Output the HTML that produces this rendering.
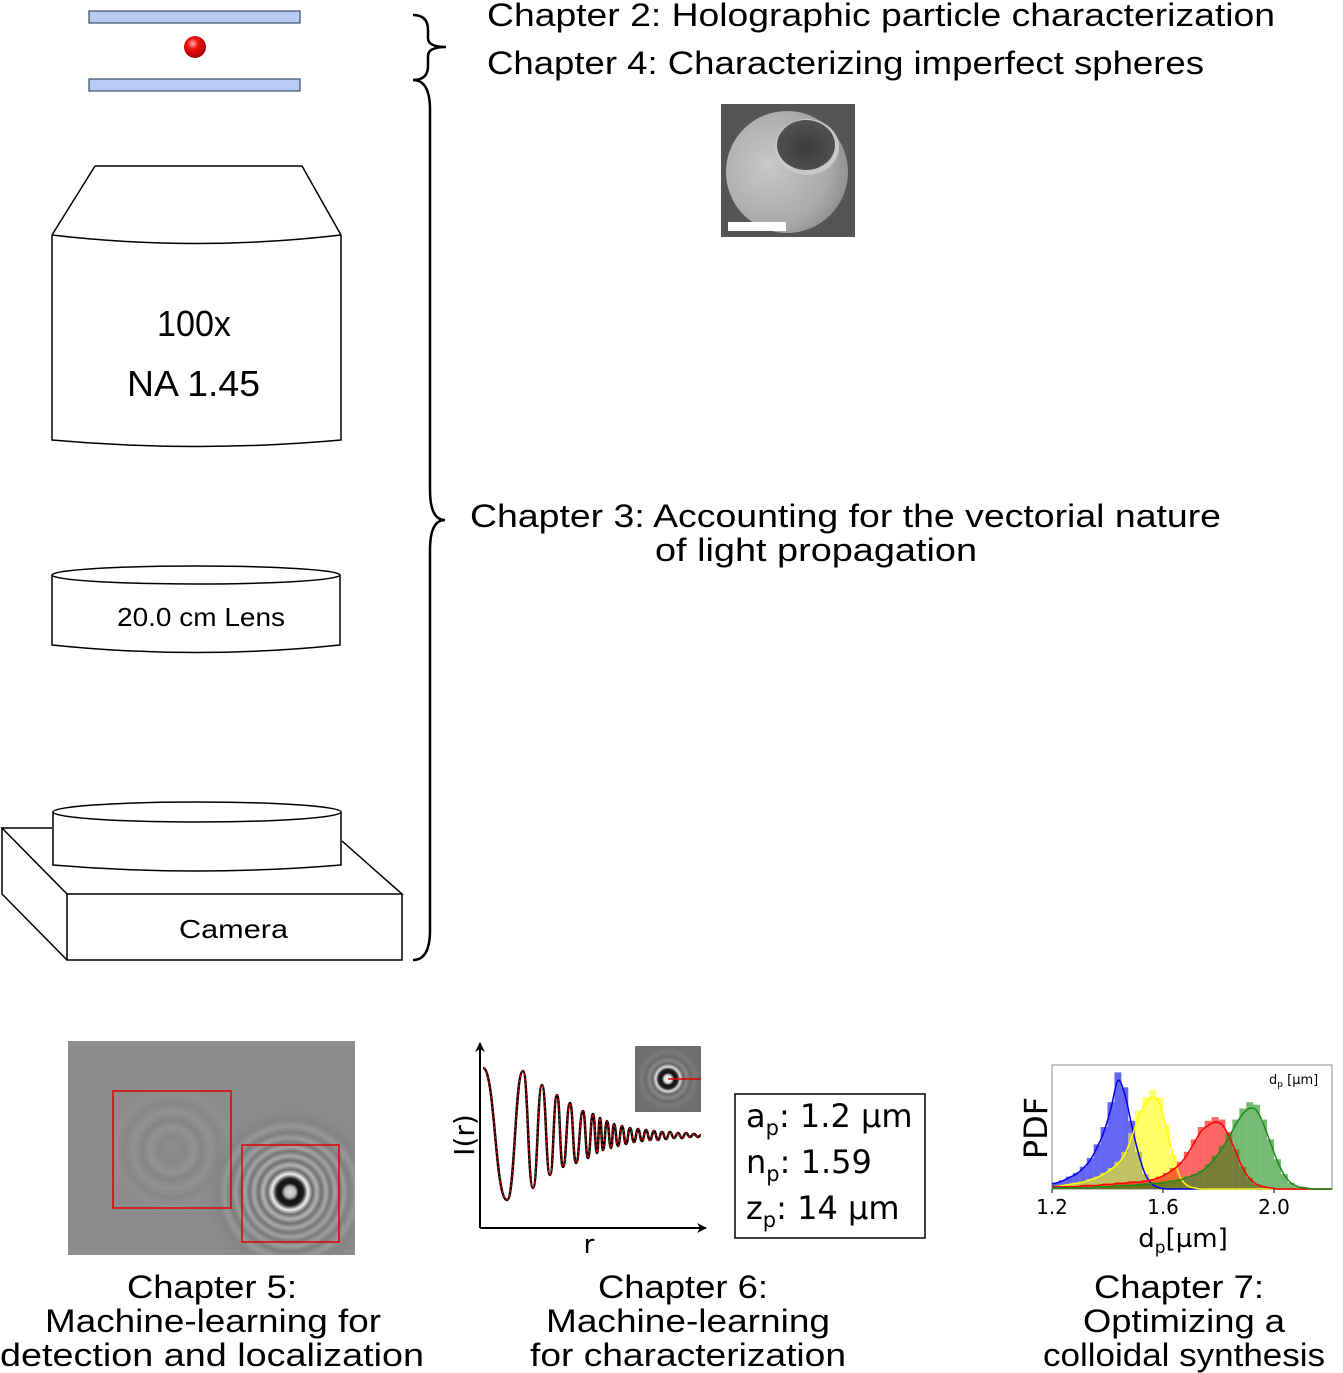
<!DOCTYPE html>
<html><head><meta charset="utf-8"><style>
html,body{margin:0;padding:0;background:#fff}
svg{display:block}
text{fill:#000}
.ls{font-family:"Liberation Sans",sans-serif}
.dv{font-family:"DejaVu Sans",sans-serif}
</style></head><body>
<svg id="root" width="1343" height="1373" viewBox="0 0 1343 1373" xmlns="http://www.w3.org/2000/svg">
<defs>
<radialGradient id="ball" cx="0.4" cy="0.35" r="0.7"><stop offset="0" stop-color="#ffb0b0"/><stop offset="0.35" stop-color="#f01010"/><stop offset="1" stop-color="#a00000"/></radialGradient>
<radialGradient id="sphere" cx="0.35" cy="0.45" r="0.7"><stop offset="0" stop-color="#c8c8c8"/><stop offset="0.7" stop-color="#aaaaaa"/><stop offset="1" stop-color="#8a8a8a"/></radialGradient>
<radialGradient id="hole" cx="0.5" cy="0.55" r="0.6"><stop offset="0" stop-color="#3a3a3a"/><stop offset="1" stop-color="#555"/></radialGradient>
<radialGradient id="holo1" cx="290" cy="1192" r="90" gradientUnits="userSpaceOnUse">
<stop offset="0" stop-color="#d8d8d8"/><stop offset="0.06" stop-color="#bcbcbc"/><stop offset="0.1" stop-color="#101010"/><stop offset="0.15" stop-color="#202020"/><stop offset="0.2" stop-color="#f0f0f0"/><stop offset="0.25" stop-color="#6a6a6a"/><stop offset="0.3" stop-color="#b4b4b4"/><stop offset="0.35" stop-color="#707070"/><stop offset="0.4" stop-color="#aaaaaa"/><stop offset="0.45" stop-color="#767676"/><stop offset="0.5" stop-color="#a4a4a4"/><stop offset="0.55" stop-color="#7a7a7a"/><stop offset="0.6" stop-color="#9e9e9e"/><stop offset="0.66" stop-color="#7e7e7e"/><stop offset="0.73" stop-color="#989898"/><stop offset="0.8" stop-color="#848484"/><stop offset="1" stop-color="#8c8c8c" stop-opacity="0"/></radialGradient>
<radialGradient id="holo2" cx="172" cy="1150" r="70" gradientUnits="userSpaceOnUse">
<stop offset="0" stop-color="#8e8e8e"/><stop offset="0.2" stop-color="#888"/><stop offset="0.32" stop-color="#949494"/><stop offset="0.42" stop-color="#858585"/><stop offset="0.55" stop-color="#939393"/><stop offset="0.68" stop-color="#878787"/><stop offset="0.8" stop-color="#909090"/><stop offset="1" stop-color="#8c8c8c" stop-opacity="0"/></radialGradient>
<radialGradient id="holo3" cx="668" cy="1079" r="32" gradientUnits="userSpaceOnUse">
<stop offset="0" stop-color="#fff"/><stop offset="0.12" stop-color="#ddd"/><stop offset="0.2" stop-color="#111"/><stop offset="0.3" stop-color="#222"/><stop offset="0.38" stop-color="#ddd"/><stop offset="0.48" stop-color="#666"/><stop offset="0.58" stop-color="#888"/><stop offset="0.7" stop-color="#6a6a6a"/><stop offset="0.82" stop-color="#7a7a7a"/><stop offset="1" stop-color="#6e6e6e"/></radialGradient>
<clipPath id="holoClip"><rect x="68" y="1041" width="287" height="214"/></clipPath>
<marker id="arr" viewBox="0 0 10 10" refX="9" refY="5" markerWidth="10" markerHeight="10" orient="auto" markerUnits="userSpaceOnUse"><path d="M0,0 L10,5 L0,10 L3,5 z" fill="#000"/></marker>
</defs>

<rect x="89" y="11" width="211" height="12" fill="#b7cbf3" stroke="#3a4a6a" stroke-width="1.2"/>
<rect x="89" y="79" width="211" height="12" fill="#b7cbf3" stroke="#3a4a6a" stroke-width="1.2"/>
<circle cx="195" cy="47" r="11" fill="url(#ball)"/>

<g fill="none" stroke="#000" stroke-width="1.5">
<path d="M95,166 L302,166 L341,235 M95,166 L52,235"/>
<path d="M52,235 Q196,252 341,235"/>
<path d="M52,235 L52,440 Q196,453 341,440 L341,235"/>
</g>
<text class="ls" x="157" y="336" font-size="36" textLength="74" lengthAdjust="spacingAndGlyphs">100x</text>
<text class="ls" x="127" y="396" font-size="36" textLength="133" lengthAdjust="spacingAndGlyphs">NA 1.45</text>

<g fill="none" stroke="#000" stroke-width="1.5">
<ellipse cx="196" cy="575" rx="144" ry="9"/>
<path d="M52,575 L52,645 Q196,660 340,645 L340,575"/>
</g>
<text class="ls" x="117" y="626" font-size="26" textLength="168" lengthAdjust="spacingAndGlyphs">20.0 cm Lens</text>

<g fill="none" stroke="#000" stroke-width="1.5">
<path d="M52,828 L2,828 L67,894 L402,894 L342,841"/>
<path d="M2,828 L2,894 L67,960 L402,960 L402,894"/>
<path d="M67,894 L67,960"/>
<path d="M53,812 L53,865 Q196,877 341,865 L341,812" fill="#fff"/>
<ellipse cx="197" cy="812" rx="144" ry="10" fill="#fff"/>
</g>
<text class="ls" x="179" y="938" font-size="26" textLength="109" lengthAdjust="spacingAndGlyphs">Camera</text>

<path d="M413,15 Q428,15 428,30 L428,38 Q428,47 446,47 Q428,47 428,56 L428,66 Q428,80 413,80" fill="none" stroke="#000" stroke-width="2.5"/>
<path d="M413,80 Q430,80 430,110 L430,490 Q430,520 445,520 Q430,520 430,550 L430,930 Q430,960 413,960" fill="none" stroke="#000" stroke-width="2.5"/>

<text class="ls" x="487" y="26" font-size="32" textLength="788" lengthAdjust="spacingAndGlyphs">Chapter 2: Holographic particle characterization</text>
<text class="ls" x="487" y="74" font-size="32" textLength="717" lengthAdjust="spacingAndGlyphs">Chapter 4: Characterizing imperfect spheres</text>
<text class="ls" x="470" y="527" font-size="32" textLength="751" lengthAdjust="spacingAndGlyphs">Chapter 3: Accounting for the vectorial nature</text>
<text class="ls" x="655" y="561" font-size="32" textLength="322" lengthAdjust="spacingAndGlyphs">of light propagation</text>

<g>
<rect x="721" y="104" width="134" height="133" fill="#555"/>
<circle cx="787" cy="172" r="61" fill="url(#sphere)"/>
<ellipse cx="807" cy="147" rx="32" ry="28" fill="#c8c8c8"/>
<ellipse cx="806" cy="145" rx="29" ry="25" fill="url(#hole)"/>
<rect x="728" y="222" width="58" height="9" fill="#fff"/>
</g>

<g>
<g clip-path="url(#holoClip)">
<rect x="68" y="1041" width="287" height="214" fill="#8c8c8c"/>
<circle cx="172" cy="1150" r="70" fill="url(#holo2)"/>
<circle cx="290" cy="1192" r="90" fill="url(#holo1)"/>
</g>
<rect x="113" y="1091" width="118" height="117" fill="none" stroke="#e00000" stroke-width="1.5"/>
<rect x="242" y="1145" width="97" height="97" fill="none" stroke="#e00000" stroke-width="1.5"/>
</g>

<g id="ch6">
<line x1="480" y1="1228" x2="480" y2="1043" stroke="#000" stroke-width="2" marker-end="url(#arr)"/>
<line x1="480" y1="1228" x2="706" y2="1228" stroke="#000" stroke-width="2" marker-end="url(#arr)"/>
<text class="dv" transform="translate(474,1135) rotate(-90)" text-anchor="middle" font-size="28">I(r)</text>
<text class="dv" x="589" y="1253" text-anchor="middle" font-size="26">r</text>
<rect x="635" y="1046" width="66" height="66" fill="url(#holo3)"/>
<line x1="668" y1="1079" x2="701" y2="1079" stroke="#e00000" stroke-width="1.5"/>
</g>
<rect x="735" y="1094" width="190" height="144" fill="#fff" stroke="#000" stroke-width="1.5"/>
<text class="dv" x="746" y="1127" font-size="32">a<tspan font-size="21" dy="8">p</tspan><tspan dy="-8">: 1.2 µm</tspan></text>
<text class="dv" x="746" y="1173" font-size="32">n<tspan font-size="21" dy="8">p</tspan><tspan dy="-8">: 1.59</tspan></text>
<text class="dv" x="746" y="1219" font-size="32">z<tspan font-size="21" dy="8">p</tspan><tspan dy="-8">: 14 µm</tspan></text>

<g id="ch7">
<rect x="1052" y="1065" width="280" height="124" fill="#fff" stroke="#888" stroke-width="1"/>
<text class="dv" x="1269" y="1084" font-size="13">d<tspan font-size="9" dy="3">p</tspan><tspan dy="-3"> [µm]</tspan></text>
<text class="dv" transform="translate(1047,1128) rotate(-90)" text-anchor="middle" font-size="32">PDF</text>
<text class="dv" x="1183" y="1247" text-anchor="middle" font-size="26">d<tspan font-size="17" dy="6">p</tspan><tspan dy="-6">[µm]</tspan></text>
</g>

<text class="ls" x="212" y="1298" text-anchor="middle" font-size="32" textLength="170" lengthAdjust="spacingAndGlyphs">Chapter 5:</text>
<text class="ls" x="213" y="1332" text-anchor="middle" font-size="32" textLength="336" lengthAdjust="spacingAndGlyphs">Machine-learning for</text>
<text class="ls" x="212" y="1366" text-anchor="middle" font-size="32" textLength="424" lengthAdjust="spacingAndGlyphs">detection and localization</text>
<text class="ls" x="683" y="1298" text-anchor="middle" font-size="32" textLength="170" lengthAdjust="spacingAndGlyphs">Chapter 6:</text>
<text class="ls" x="688" y="1332" text-anchor="middle" font-size="32" textLength="284" lengthAdjust="spacingAndGlyphs">Machine-learning</text>
<text class="ls" x="688" y="1366" text-anchor="middle" font-size="32" textLength="316" lengthAdjust="spacingAndGlyphs">for characterization</text>
<text class="ls" x="1179" y="1298" text-anchor="middle" font-size="32" textLength="170" lengthAdjust="spacingAndGlyphs">Chapter 7:</text>
<text class="ls" x="1184" y="1332" text-anchor="middle" font-size="32" textLength="202" lengthAdjust="spacingAndGlyphs">Optimizing a</text>
<text class="ls" x="1184" y="1366" text-anchor="middle" font-size="32" textLength="282" lengthAdjust="spacingAndGlyphs">colloidal synthesis</text>
</svg>
<script>
// ---- Chapter 6 profile data (extrema of I(r), arbitrary units) ----
const profileR = [3,27,43,53,62,70,77,83,90,96,103,108,113,117,120,123,127,131,134,138,142,146,150,154,158,162,166,170,174,178,182,186,190,194,198,202,206,210,214,218,221];
const profileI = [160,28,157,40,143,53,133,61,125,65,117,70,114,75,110,78,107,80,104,82,102,84,100,86,99,87,98,88,97,88,96,89,96,90,95,90,95,91,94,91,93];
// ---- Chapter 7 histogram data ----
const binStart = 1.2, binWidth = 0.025;
const blueHist   = [0.05,0.07,0.1,0.13,0.18,0.25,0.36,0.5,0.7,0.94,0.82,0.55,0.3,0.12,0.04,0.01,0,0,0,0,0,0,0,0,0,0,0,0,0,0,0,0,0,0,0,0,0,0,0,0];
const yellowHist = [0.02,0.03,0.04,0.05,0.06,0.08,0.1,0.13,0.17,0.22,0.3,0.45,0.63,0.74,0.8,0.74,0.52,0.28,0.1,0.03,0.01,0,0,0,0,0,0,0,0,0,0,0,0,0,0,0,0,0,0,0];
const redHist    = [0.02,0.02,0.02,0.02,0.03,0.03,0.03,0.04,0.04,0.05,0.05,0.06,0.06,0.07,0.08,0.1,0.13,0.17,0.22,0.3,0.4,0.5,0.55,0.58,0.56,0.46,0.32,0.18,0.09,0.04,0.02,0.01,0,0,0,0,0,0,0,0];
const greenHist  = [0.01,0.01,0.01,0.01,0.01,0.01,0.02,0.02,0.02,0.03,0.03,0.03,0.04,0.04,0.05,0.05,0.06,0.07,0.08,0.1,0.12,0.15,0.2,0.27,0.35,0.45,0.56,0.65,0.7,0.68,0.56,0.4,0.24,0.12,0.05,0.02,0.01,0,0,0];
const xTicks = [1.2,1.6,2.0];
const xTickLabels = ["1.2","1.6","2.0"];

const NS = "http://www.w3.org/2000/svg";
function mk(tag, attrs, parent){const e=document.createElementNS(NS,tag);for(const k in attrs)e.setAttribute(k,attrs[k]);parent.appendChild(e);return e;}

const rx = r => 480 + r;
const iy = v => 1228 - v;
function profilePath(){
  let d = "M"+rx(profileR[0])+","+iy(profileI[0]);
  for(let i=1;i<profileR.length;i++){
    const x0=rx(profileR[i-1]),y0=iy(profileI[i-1]),x1=rx(profileR[i]),y1=iy(profileI[i]);
    const mx=(x0+x1)/2;
    d+=" C"+mx+","+y0+" "+mx+","+y1+" "+x1+","+y1;
  }
  return d;
}
const ch6=document.getElementById('ch6');
const pd=profilePath();
const meas=mk('path',{d:pd,fill:'none',stroke:'#000','stroke-width':2.5},ch6);


const fitL=mk('path',{d:pd,fill:'none',stroke:'#e00000','stroke-width':1.2,'stroke-dasharray':'3,2'},ch6);



const ch7=document.getElementById('ch7');
const px0=1052, pw=280, pyB=1189, ph=124;
const xs = d => px0 + (d-1.2)*(277.5);
const ys = v => pyB - v*ph;
const series=[["blue",blueHist,"#0000ee"],["yellow",yellowHist,"#ffff00"],["red",redHist,"#ff0000"],["green",greenHist,"#1a8c1a"]];
series.forEach(([nm,arr,col])=>{
  const g=mk('g',{},ch7);
  
  
  arr.forEach((v,i)=>{
    if(v<=0)return;
    const x=xs(binStart+i*binWidth), x2=xs(binStart+(i+1)*binWidth);
    if(x>=px0+pw)return;
    const b=mk('rect',{x:x,y:ys(v),width:Math.min(x2,px0+pw)-x,height:v*ph,fill:col,'fill-opacity':0.6},g);
    
    
  });
});
series.forEach(([nm,arr,col])=>{
  let pts=[[px0,ys(arr[0]*0.9)]];
  arr.forEach((v,i)=>{pts.push([xs(binStart+(i+0.5)*binWidth),ys(v*0.93)]);});
  pts.push([px0+pw,pyB]);
  let d="M"+pts[0][0]+","+pts[0][1];
  for(let i=1;i<pts.length;i++){
    const p0=pts[Math.max(i-2,0)],p1=pts[i-1],p2=pts[i],p3=pts[Math.min(i+1,pts.length-1)];
    d+=" C"+(p1[0]+(p2[0]-p0[0])/6)+","+(p1[1]+(p2[1]-p0[1])/6)+" "+(p2[0]-(p3[0]-p1[0])/6)+","+(p2[1]-(p3[1]-p1[1])/6)+" "+p2[0]+","+p2[1];
  }
  const c=mk('path',{d:d,fill:'none',stroke:col,'stroke-width':1.5},ch7);
  
  
});
xTicks.forEach((t,i)=>{
  const tk=mk('line',{x1:xs(t),y1:pyB,x2:xs(t),y2:pyB+4,stroke:'#000','stroke-width':1},ch7);
  
  
  const lb=mk('text',{x:xs(t),y:1214,'text-anchor':'middle','font-size':20,'class':'dv'},ch7);
  lb.textContent=xTickLabels[i];
  
  
});
</script>
</body></html>
